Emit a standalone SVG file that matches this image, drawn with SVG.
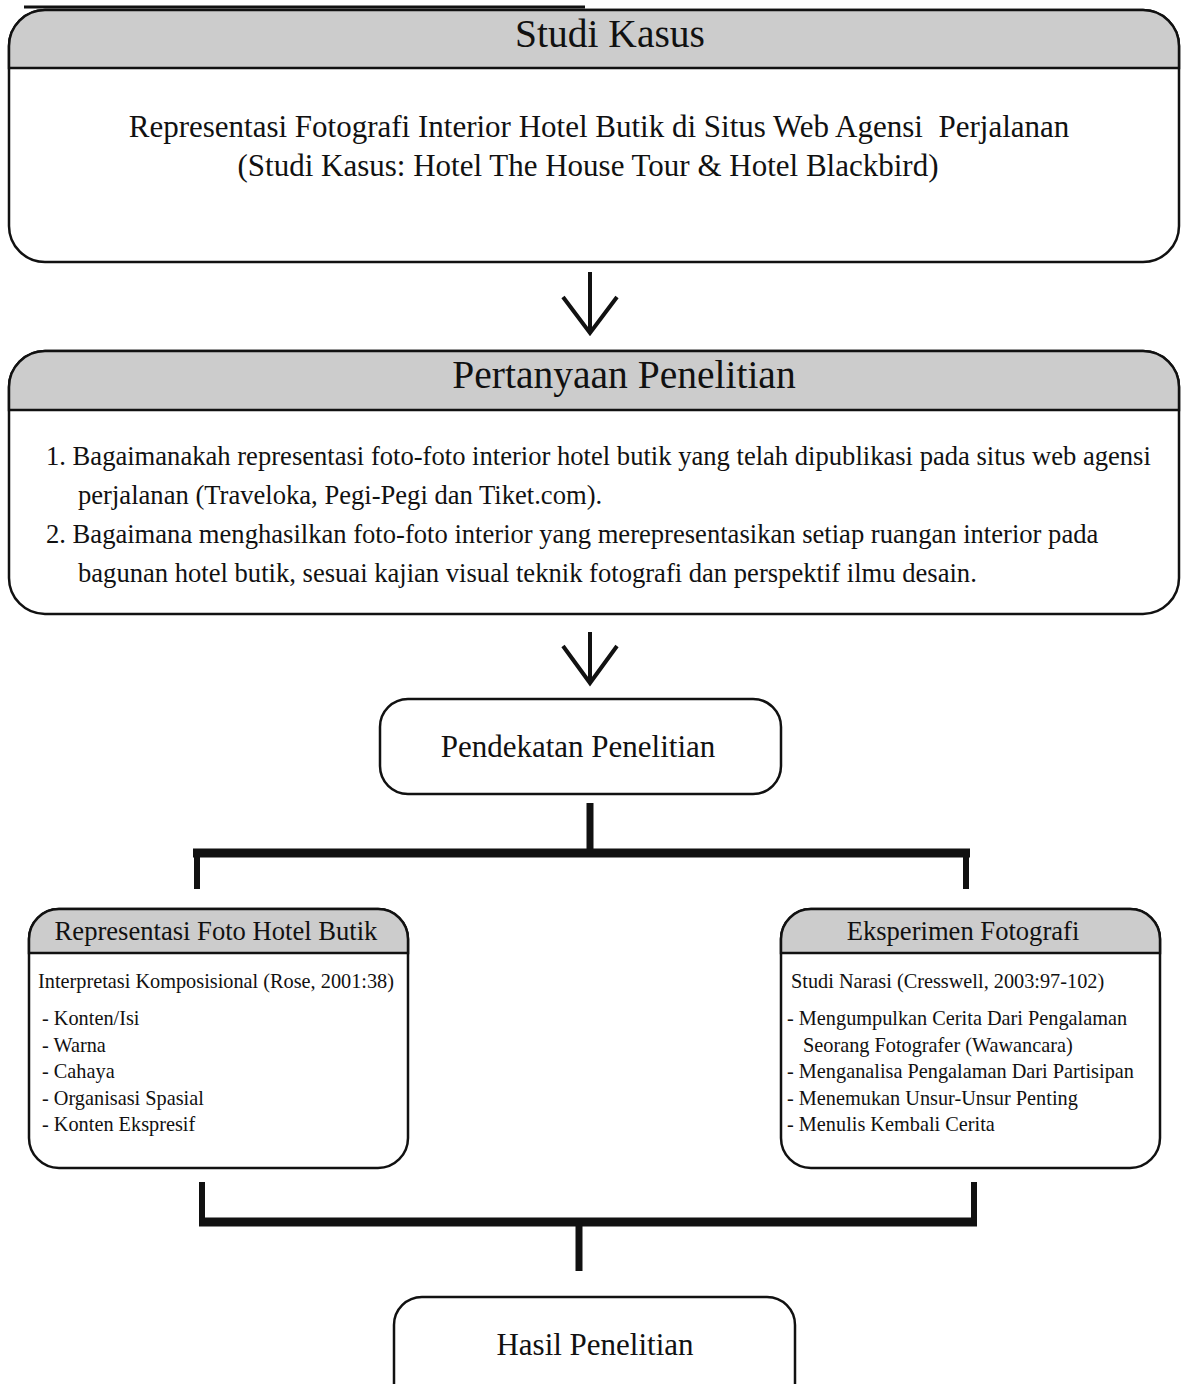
<svg xmlns="http://www.w3.org/2000/svg" width="1184" height="1384" viewBox="0 0 1184 1384">
<style>
text{font-family:"Liberation Serif","Times New Roman",serif;fill:#111}
.box{fill:#fff;stroke:#111;stroke-width:2.5}
.hdr{fill:#cccccc;stroke:#111;stroke-width:2.5}
.t1{font-size:39.5px}
.t2{font-size:26.6px}
.b1{font-size:31px}
.b2{font-size:26.6px}
.s{font-size:20.3px}
.n{font-size:31px}
.arr{fill:none;stroke:#111;stroke-width:4;stroke-linecap:butt;stroke-linejoin:miter}
.ln{stroke:#111;fill:none}
</style>
<rect width="1184" height="1384" fill="#fff"/>
<line x1="24" y1="7" x2="585" y2="7" stroke="#111" stroke-width="3"/>
<g id="studi-kasus">
<rect class="box" x="9" y="10" width="1170" height="252" rx="36"/>
<path class="hdr" d="M9,68 V46 A36,36 0 0 1 45,10 H1143 A36,36 0 0 1 1179,46 V68 Z"/>
<text class="t1" x="610" y="47" text-anchor="middle">Studi Kasus</text>
<text class="b1" x="599" y="137" text-anchor="middle" xml:space="preserve">Representasi Fotografi Interior Hotel Butik di Situs Web Agensi  Perjalanan</text>
<text class="b1" x="588" y="176" text-anchor="middle">(Studi Kasus: Hotel The House Tour &amp; Hotel Blackbird)</text>
</g>
<g id="pertanyaan">
<rect class="box" x="9" y="351" width="1170" height="263" rx="36"/>
<path class="hdr" d="M9,410 V387 A36,36 0 0 1 45,351 H1143 A36,36 0 0 1 1179,387 V410 Z"/>
<text class="t1" x="624" y="388" text-anchor="middle">Pertanyaan Penelitian</text>
<text class="b2" x="46" y="465">1. Bagaimanakah representasi foto-foto interior hotel butik yang telah dipublikasi pada situs web agensi</text>
<text class="b2" x="78" y="504">perjalanan (Traveloka, Pegi-Pegi dan Tiket.com).</text>
<text class="b2" x="46" y="543">2. Bagaimana menghasilkan foto-foto interior yang merepresentasikan setiap ruangan interior pada</text>
<text class="b2" x="78" y="582">bagunan hotel butik, sesuai kajian visual teknik fotografi dan perspektif ilmu desain.</text>
</g>
<g id="pendekatan">
<rect class="box" x="380" y="699" width="401" height="95" rx="28"/>
<text class="n" x="578" y="757" text-anchor="middle">Pendekatan Penelitian</text>
</g>
<g id="representasi">
<rect class="box" x="29" y="909" width="379" height="259" rx="30"/>
<path class="hdr" d="M29,953 V939 A30,30 0 0 1 59,909 H378 A30,30 0 0 1 408,939 V953 Z"/>
<text class="t2" x="216" y="940" text-anchor="middle">Representasi Foto Hotel Butik</text>
<text class="s" x="38" y="988">Interpretasi Komposisional (Rose, 2001:38)</text>
<text class="s" x="42" y="1025">- Konten/Isi</text>
<text class="s" x="42" y="1052">- Warna</text>
<text class="s" x="42" y="1078">- Cahaya</text>
<text class="s" x="42" y="1105">- Organisasi Spasial</text>
<text class="s" x="42" y="1131">- Konten Ekspresif</text>
</g>
<g id="eksperimen">
<rect class="box" x="781" y="909" width="379" height="259" rx="30"/>
<path class="hdr" d="M781,953 V939 A30,30 0 0 1 811,909 H1130 A30,30 0 0 1 1160,939 V953 Z"/>
<text class="t2" x="963" y="940" text-anchor="middle">Eksperimen Fotografi</text>
<text class="s" x="791" y="988">Studi Narasi (Cresswell, 2003:97-102)</text>
<text class="s" x="787" y="1025">- Mengumpulkan Cerita Dari Pengalaman</text>
<text class="s" x="803" y="1052">Seorang Fotografer (Wawancara)</text>
<text class="s" x="787" y="1078">- Menganalisa Pengalaman Dari Partisipan</text>
<text class="s" x="787" y="1105">- Menemukan Unsur-Unsur Penting</text>
<text class="s" x="787" y="1131">- Menulis Kembali Cerita</text>
</g>
<g id="hasil">
<rect class="box" x="394" y="1297" width="401" height="120" rx="28"/>
<text class="n" x="595" y="1355" text-anchor="middle">Hasil Penelitian</text>
</g>
<g id="connectors">
<path class="arr" d="M590,272 V333 M563,297 L590,333 L617,297"/>
<path class="arr" d="M590,632 V683 M563,646 L590,683 L617,646"/>
<line class="ln" x1="590" y1="803" x2="590" y2="852" stroke-width="7"/>
<line class="ln" x1="193" y1="853" x2="970" y2="853" stroke-width="9"/>
<line class="ln" x1="197" y1="853" x2="197" y2="889" stroke-width="6"/>
<line class="ln" x1="966" y1="853" x2="966" y2="889" stroke-width="6"/>
<line class="ln" x1="202" y1="1182" x2="202" y2="1222" stroke-width="6"/>
<line class="ln" x1="974" y1="1182" x2="974" y2="1222" stroke-width="6"/>
<line class="ln" x1="199" y1="1222" x2="977" y2="1222" stroke-width="9"/>
<line class="ln" x1="579" y1="1222" x2="579" y2="1271" stroke-width="7"/>
</g>
</svg>
